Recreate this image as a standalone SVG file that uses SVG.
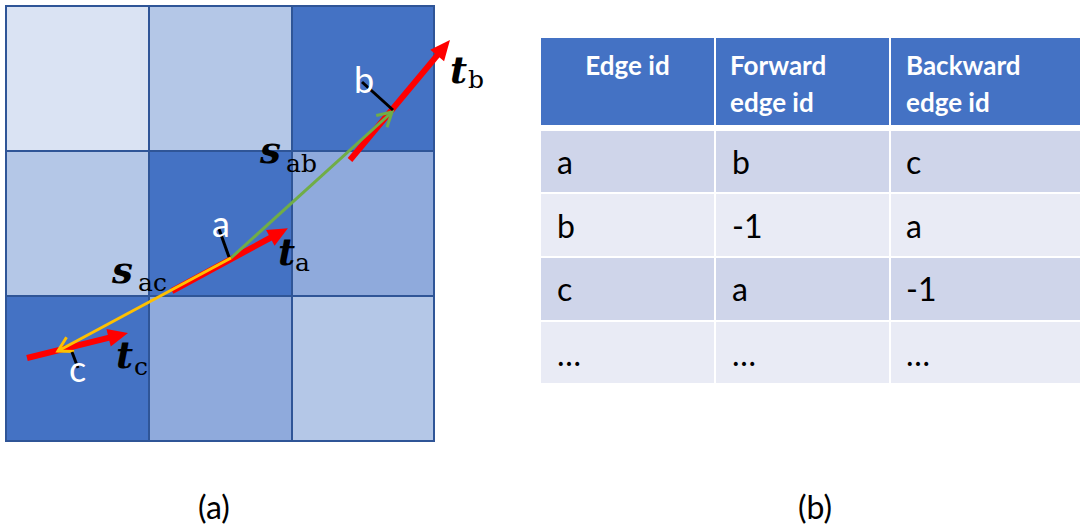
<svg xmlns="http://www.w3.org/2000/svg" width="1082" height="531" viewBox="0 0 1082 531">
<style>
.cell{stroke:#2F5597;stroke-width:2}
.c1{fill:#DAE3F3}.c2{fill:#B4C7E7}.c3{fill:#8FAADC}.c4{fill:#4472C4}
.wl{font-family:Lato,"Liberation Sans",sans-serif;font-size:36px;fill:#FFFFFF}
.mb{font-family:"DejaVu Serif",serif;font-weight:bold;font-style:italic;font-size:37px;fill:#000}
.ms{font-family:"DejaVu Serif",serif;font-size:25px;fill:#000}
.red{stroke:#FF0000;stroke-width:6;fill:none}
.tick{stroke:#000;stroke-width:3}
.hdr{font-family:Lato,"Liberation Sans",sans-serif;font-weight:bold;font-size:26px;fill:#FFFFFF}
.bd{font-family:Lato,"Liberation Sans",sans-serif;font-size:32px;fill:#000}
.cap{font-family:Lato,"Liberation Sans",sans-serif;font-size:32px;fill:#000}
.hrow{fill:#4472C4}.dk{fill:#CFD5EA}.lt{fill:#E9EBF5}
</style>
<defs>
<marker id="rh" markerUnits="userSpaceOnUse" markerWidth="20" markerHeight="18" refX="6" refY="9" orient="auto" overflow="visible">
<path d="M0,0 L20,9 L0,18 z" fill="#FF0000"/>
</marker>
<marker id="gh" markerUnits="userSpaceOnUse" markerWidth="18" markerHeight="18" refX="16" refY="9" orient="auto" overflow="visible">
<path d="M2,1 L16,9 L2,17" fill="none" stroke="#70AD47" stroke-width="3"/>
</marker>
<marker id="oh" markerUnits="userSpaceOnUse" markerWidth="18" markerHeight="18" refX="16" refY="9" orient="auto" overflow="visible">
<path d="M2,1 L16,9 L2,17" fill="none" stroke="#FFC000" stroke-width="3"/>
</marker>
</defs>
<rect width="1082" height="531" fill="#FFFFFF"/>
<g id="grid">
<rect class="cell c1" x="6" y="6" width="143" height="145"/>
<rect class="cell c2" x="149" y="6" width="143" height="145"/>
<rect class="cell c4" x="292" y="6" width="142" height="145"/>
<rect class="cell c2" x="6" y="151" width="143" height="145"/>
<rect class="cell c4" x="149" y="151" width="143" height="145"/>
<rect class="cell c3" x="292" y="151" width="142" height="145"/>
<rect class="cell c4" x="6" y="296" width="143" height="145"/>
<rect class="cell c3" x="149" y="296" width="143" height="145"/>
<rect class="cell c2" x="292" y="296" width="142" height="145"/>
</g>
<g id="connectors">
<line class="red" x1="350" y1="160" x2="441" y2="50.8" marker-end="url(#rh)"/>
<line class="red" x1="172" y1="291" x2="275.6" y2="235" marker-end="url(#rh)"/>
<line class="red" x1="27" y1="358" x2="114.4" y2="336.4" marker-end="url(#rh)"/>
<line x1="231" y1="258" x2="392" y2="112" stroke="#70AD47" stroke-width="3" marker-end="url(#gh)"/>
<line x1="231" y1="258" x2="58" y2="351" stroke="#FFC000" stroke-width="3" marker-end="url(#oh)"/>
<line class="tick" x1="362" y1="82" x2="393" y2="110"/>
<line class="tick" x1="219" y1="229" x2="229" y2="257"/>
<line class="tick" x1="72" y1="352" x2="78" y2="368"/>
</g>
<g id="labels">
<text class="wl" x="354" y="93">b</text>
<text class="wl" x="212" y="237">a</text>
<text class="wl" x="69" y="382">c</text>
<text class="mb" x="260" y="163">s</text><text class="ms" x="286" y="172">ab</text>
<text class="mb" x="112" y="283">s</text><text class="ms" x="138" y="291">ac</text>
<text class="mb" x="278" y="265">t</text><text class="ms" x="295" y="271">a</text>
<text class="mb" x="450" y="83">t</text><text class="ms" x="468" y="88">b</text>
<text class="mb" x="116" y="368">t</text><text class="ms" x="134" y="375">c</text>
</g>
<g id="table">
<rect class="hrow" x="541" y="38" width="173" height="87"/>
<rect class="hrow" x="716" y="38" width="173" height="87"/>
<rect class="hrow" x="891" y="38" width="189" height="87"/>
<rect class="dk" x="541" y="131" width="173" height="61"/>
<rect class="dk" x="716" y="131" width="173" height="61"/>
<rect class="dk" x="891" y="131" width="189" height="61"/>
<rect class="lt" x="541" y="194" width="173" height="62"/>
<rect class="lt" x="716" y="194" width="173" height="62"/>
<rect class="lt" x="891" y="194" width="189" height="62"/>
<rect class="dk" x="541" y="258" width="173" height="62"/>
<rect class="dk" x="716" y="258" width="173" height="62"/>
<rect class="dk" x="891" y="258" width="189" height="62"/>
<rect class="lt" x="541" y="322" width="173" height="61"/>
<rect class="lt" x="716" y="322" width="173" height="61"/>
<rect class="lt" x="891" y="322" width="189" height="61"/>
<text class="hdr" x="627.5" y="75" text-anchor="middle">Edge id</text>
<text class="hdr" x="730" y="75">Forward</text>
<text class="hdr" x="730" y="112">edge id</text>
<text class="hdr" x="906" y="75">Backward</text>
<text class="hdr" x="906" y="112">edge id</text>
<text class="bd" x="557" y="174">a</text><text class="bd" x="732" y="174">b</text><text class="bd" x="906" y="174">c</text>
<text class="bd" x="557" y="238">b</text><text class="bd" x="732" y="238">-1</text><text class="bd" x="906" y="238">a</text>
<text class="bd" x="557" y="301">c</text><text class="bd" x="732" y="301">a</text><text class="bd" x="906" y="301">-1</text>
<text class="bd" x="557" y="366">…</text><text class="bd" x="732" y="366">…</text><text class="bd" x="906" y="366">…</text>
</g>
<g id="captions">
<text class="cap" x="214" y="519" text-anchor="middle">(a)</text>
<text class="cap" x="815" y="519" text-anchor="middle">(b)</text>
</g>
</svg>
